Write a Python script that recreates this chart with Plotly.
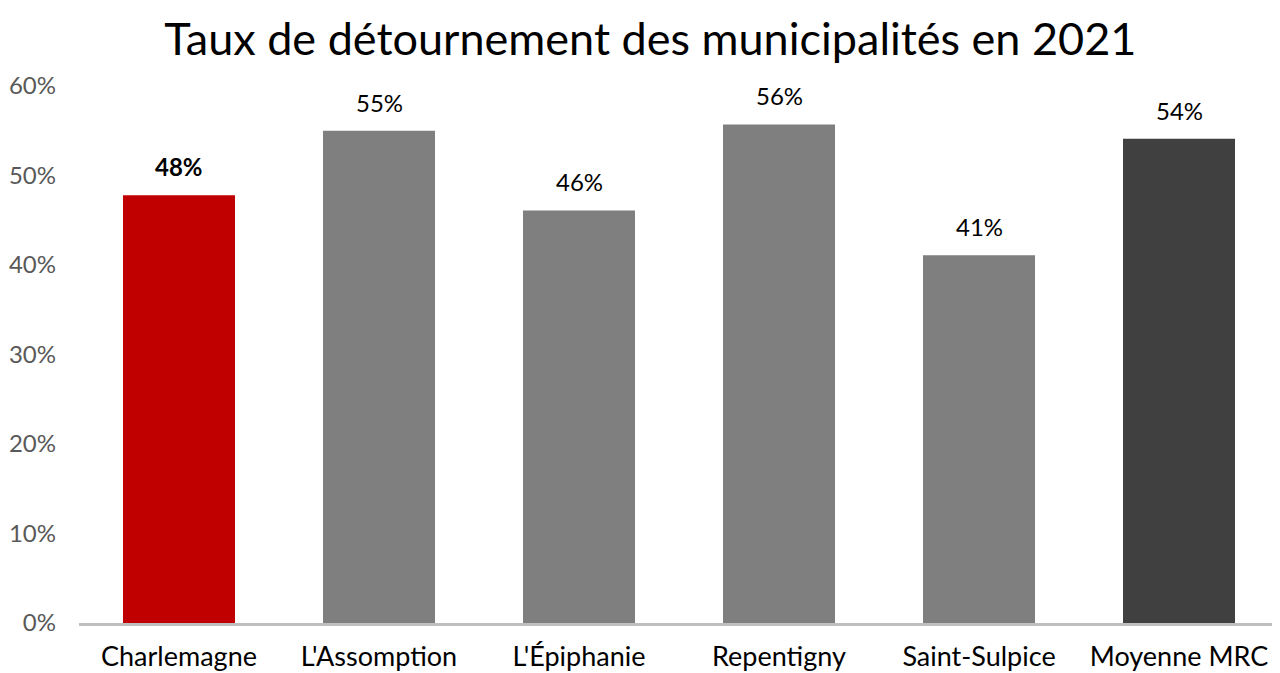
import plotly.graph_objects as go

# Data
municipalites = ["Charlemagne", "L'Assomption", "L'Épiphanie", "Repentigny", "Saint-Sulpice", "Moyenne MRC"]
taux = [0.478, 0.55, 0.461, 0.557, 0.411, 0.541]
couleurs = ["#C00000", "#7F7F7F", "#7F7F7F", "#7F7F7F", "#7F7F7F", "#404040"]

FONT = "Lato"

labels = [f"{v:.0%}" for v in taux]
labels[0] = f"<b>{labels[0]}</b>"

fig = go.Figure()
fig.add_trace(
    go.Bar(
        x=municipalites,
        y=taux,
        marker=dict(color=couleurs, line=dict(width=0)),
        width=0.56,
        hoverinfo="skip",
    )
)

# value labels above the bars
for cat, val, lab in zip(municipalites, taux, labels):
    fig.add_annotation(
        x=cat, y=val, text=lab, showarrow=False,
        yanchor="bottom", yshift=12,
        font=dict(family=FONT, size=24, color="#000000"),
    )

# the page body has an 8px margin, so the figure is shrunk to fit
fig.update_layout(
    width=1272,
    height=665,
    paper_bgcolor="white",
    plot_bgcolor="white",
    margin=dict(l=71, r=1, t=78, b=47),
    showlegend=False,
    title=dict(
        text="Taux de détournement des municipalités en 2021",
        x=0.505,
        xanchor="center",
        y=0.953,
        yanchor="middle",
        font=dict(family=FONT, size=45, color="#000000"),
    ),
    xaxis=dict(
        showgrid=False,
        showline=True,
        linecolor="#BFBFBF",
        linewidth=3,
        ticks="",
        ticklabelstandoff=8,
        tickfont=dict(family=FONT, size=27, color="#000000"),
    ),
    yaxis=dict(
        range=[0, 0.6],
        dtick=0.1,
        tickformat=".0%",
        showgrid=False,
        zeroline=False,
        showline=False,
        ticks="",
        ticklabelstandoff=22,
        tickfont=dict(family=FONT, size=24, color="#595959"),
    ),
)

fig.write_html("out.html")
